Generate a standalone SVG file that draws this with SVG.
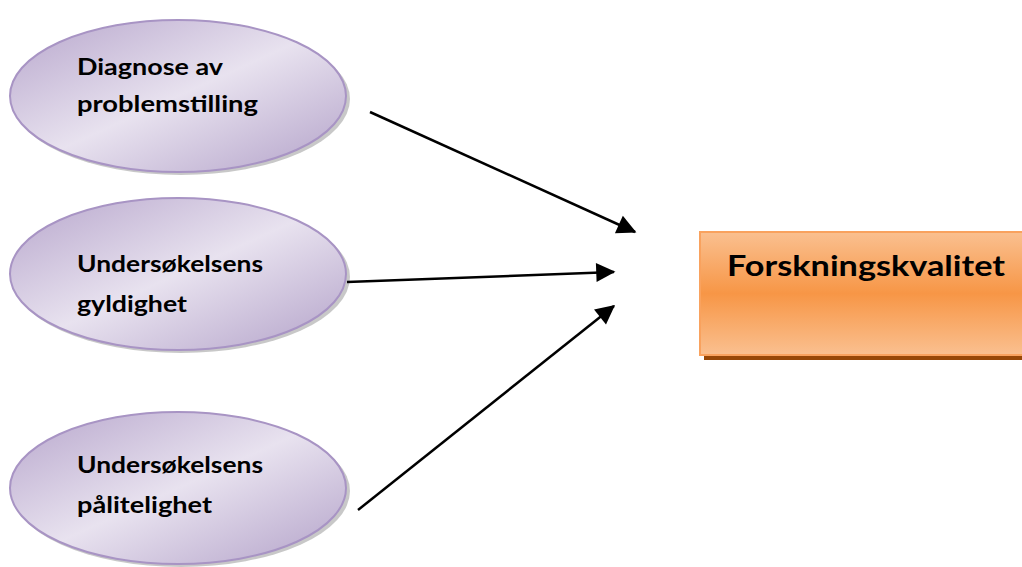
<svg xmlns="http://www.w3.org/2000/svg" width="1022" height="567" viewBox="0 0 1022 567">
<style>
.ell{fill:url(#eg);stroke:#A894C4;stroke-width:2}
.sh{fill:#9a9a9a;opacity:0.55}
.t{font-family:Lato,"Open Sans","Liberation Sans",sans-serif;font-weight:bold;font-size:23px;fill:#000}
.tb{font-family:Lato,"Open Sans","Liberation Sans",sans-serif;font-weight:bold;font-size:29px;fill:#000}
.c{stroke:#000;stroke-width:2.5;fill:none;marker-end:url(#ah)}
</style>
<defs>
<linearGradient id="eg" x1="0" y1="0" x2="1" y2="1">
<stop offset="0" stop-color="#B7A6CC"/>
<stop offset="0.5" stop-color="#E8E2EF"/>
<stop offset="1" stop-color="#B3A2C9"/>
</linearGradient>
<linearGradient id="rg" x1="0" y1="0" x2="0" y2="1">
<stop offset="0" stop-color="#FAC090"/>
<stop offset="0.5" stop-color="#F79646"/>
<stop offset="1" stop-color="#FAC090"/>
</linearGradient>
<marker id="ah" viewBox="0 0 10 10" refX="9" refY="5" markerWidth="8" markerHeight="8" markerUnits="userSpaceOnUse" orient="auto" style="overflow:visible">
<path d="M0,0 L10,5 L0,10 z" fill="#000" transform="scale(2.4) translate(-5.5,-3)"/>
</marker>
</defs>
<g id="node1">
<ellipse class="sh" cx="181" cy="99" rx="169" ry="76"/>
<ellipse class="ell" cx="178" cy="96" rx="168" ry="76"/>
<text class="t" x="77" y="75" textLength="146" lengthAdjust="spacingAndGlyphs">Diagnose av</text>
<text class="t" x="77" y="112" textLength="181" lengthAdjust="spacingAndGlyphs">problemstilling</text>
</g>
<g id="node2">
<ellipse class="sh" cx="181" cy="277" rx="169" ry="76"/>
<ellipse class="ell" cx="178" cy="274" rx="168" ry="76"/>
<text class="t" x="77" y="272" textLength="186" lengthAdjust="spacingAndGlyphs">Undersøkelsens</text>
<text class="t" x="77" y="312" textLength="110" lengthAdjust="spacingAndGlyphs">gyldighet</text>
</g>
<g id="node3">
<ellipse class="sh" cx="181" cy="491" rx="169" ry="76"/>
<ellipse class="ell" cx="178" cy="488" rx="168" ry="76"/>
<text class="t" x="77" y="473" textLength="186" lengthAdjust="spacingAndGlyphs">Undersøkelsens</text>
<text class="t" x="77" y="513" textLength="135" lengthAdjust="spacingAndGlyphs">pålitelighet</text>
</g>
<g id="node4">
<rect x="704" y="236" width="330" height="124" fill="#984807"/>
<rect x="700" y="232" width="330" height="123" fill="url(#rg)" stroke="#F9A25E" stroke-width="2"/>
<text class="tb" x="727" y="276" textLength="278" lengthAdjust="spacingAndGlyphs">Forskningskvalitet</text>
</g>
<g id="connectors">
<line class="c" x1="370" y1="112" x2="635" y2="232"/>
<line class="c" x1="347" y1="282" x2="614" y2="272"/>
<line class="c" x1="358" y1="510" x2="614" y2="306"/>
</g>
</svg>
